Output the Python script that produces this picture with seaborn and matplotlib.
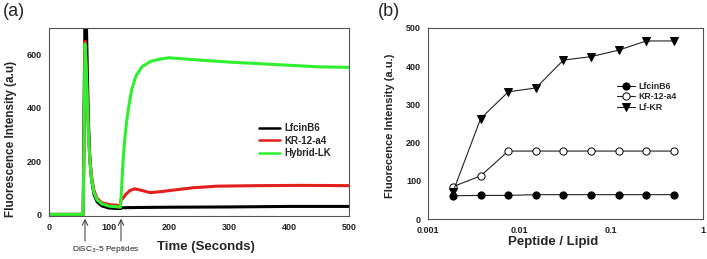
import numpy as np
import pandas as pd
import matplotlib
matplotlib.use('Agg')
import matplotlib.pyplot as plt
import seaborn as sns
from matplotlib.ticker import MultipleLocator, FixedLocator, LogLocator, NullFormatter

# (a) time-course data
t_black = [0, 57, 58.5, 60, 62, 64, 66, 68, 71, 75, 80, 88, 100, 115, 119, 121, 150, 200, 300, 400, 500]
y_black = [0, 0, 400, 760, 760, 520, 330, 210, 130, 75, 48, 32, 24, 22, 22, 25, 26, 27, 28, 30, 30]

t_red = [0, 57, 58.5, 60, 62, 64, 66, 68, 71, 75, 80, 88, 100, 115, 119, 120, 123, 128, 135, 143, 155, 168,
         185, 210, 240, 280, 350, 420, 500]
y_red = [0, 0, 300, 650, 560, 420, 300, 215, 140, 90, 60, 44, 37, 34, 32, 55, 60, 75, 90, 96, 90, 82,
         85, 92, 100, 106, 108, 109, 108]

t_green = [0, 57, 58.5, 60, 62, 64, 66, 68, 71, 75, 80, 88, 100, 115, 119, 120, 122, 124, 127, 130, 134,
           138, 145, 155, 170, 185, 200, 230, 260, 300, 350, 400, 450, 500]
y_green = [0, 0, 300, 640, 560, 410, 290, 205, 130, 82, 55, 40, 31, 28, 27, 60, 140, 220, 300, 360, 420,
           470, 520, 555, 575, 583, 588, 583, 578, 572, 566, 560, 554, 552]

# (b) dose-response data
ratio = [0.00187, 0.00375, 0.0075, 0.015, 0.03, 0.06, 0.12, 0.24, 0.48]
lfcin = [61, 62, 62, 64, 64, 64, 64, 64, 64]
kr12 = [85, 113, 178, 178, 178, 178, 178, 178, 178]
lfkr = [71, 263, 333, 343, 416, 425, 442, 466, 466]

sns.set_style('white')
plt.rcParams['font.family'] = ['Liberation Sans', 'DejaVu Sans']

df_a = pd.concat([
    pd.DataFrame({'t': t_black, 'y': y_black, 'peptide': 'LfcinB6'}),
    pd.DataFrame({'t': t_red, 'y': y_red, 'peptide': 'KR-12-a4'}),
    pd.DataFrame({'t': t_green, 'y': y_green, 'peptide': 'Hybrid-LK'}),
])
pal_a = {'LfcinB6': '#000000', 'KR-12-a4': '#e3201c', 'Hybrid-LK': '#2ef02e'}

fig = plt.figure(figsize=(7.07, 2.59), dpi=100)
ax1 = fig.add_axes([0.0693, 0.166, 0.4243, 0.726])
ax2 = fig.add_axes([0.6054, 0.154, 0.389, 0.738])

sns.lineplot(data=df_a, x='t', y='y', hue='peptide', palette=pal_a, linewidth=2.2,
             estimator=None, sort=False, ax=ax1)
ax1.set_xlim(0, 500)
ax1.set_ylim(-6, 700)
ax1.xaxis.set_major_locator(MultipleLocator(100))
ax1.xaxis.set_minor_locator(MultipleLocator(50))
ax1.yaxis.set_major_locator(FixedLocator([0, 200, 400, 600]))
ax1.yaxis.set_minor_locator(FixedLocator([100, 300, 500]))
ax1.set_xlabel('Time (Seconds)', fontsize=9.5, fontweight='bold')
ax1.set_ylabel('Fluorescence Intensity (a.u)', fontsize=8.5, fontweight='bold')
ax1.xaxis.set_label_coords(0.523, -0.135)
ax1.yaxis.set_label_coords(-0.108, 0.41)
leg1 = ax1.legend(loc='upper left', bbox_to_anchor=(0.67, 0.54), frameon=False,
                  prop={'size': 7, 'weight': 'bold'}, handlelength=2.2, handletextpad=0.4,
                  labelspacing=0.25)
for ln in leg1.get_lines():
    ln.set_linewidth(1.8)

# injection arrows
for tx in [60, 120]:
    ax1.annotate('', xy=(tx, -6), xycoords='data', xytext=(0, -20), textcoords='offset points',
                 arrowprops=dict(arrowstyle='->', color='#333333', lw=0.7), annotation_clip=False)
ax1.text(0.19, -0.15, 'DiSC$_3$-5 Peptides', transform=ax1.transAxes, fontsize=6,
         color='#222222', ha='center', va='top')

# (b)
df_b = pd.DataFrame({'ratio': ratio, 'LfcinB6': lfcin, 'KR-12-a4': kr12, 'Lf-KR': lfkr})
styles = [('LfcinB6', 'o', 'black'), ('KR-12-a4', 'o', 'white'), ('Lf-KR', 'v', 'black')]
for name, mk, fc in styles:
    sns.lineplot(data=df_b, x='ratio', y=name, ax=ax2, color='#222222', linewidth=0.8,
                 marker=mk, markersize=5.2, markerfacecolor=fc, markeredgecolor='black',
                 markeredgewidth=0.7, label=name)
ax2.set_xscale('log')
ax2.set_xlim(0.001, 1)
ax2.set_ylim(0, 500)
ax2.xaxis.set_major_locator(FixedLocator([0.001, 0.01, 0.1, 1]))
ax2.set_xticklabels(['0.001', '0.01', '0.1', '1'])
ax2.xaxis.set_minor_locator(LogLocator(base=10, subs=np.arange(2, 10)))
ax2.xaxis.set_minor_formatter(NullFormatter())
ax2.yaxis.set_major_locator(MultipleLocator(100))
ax2.set_xlabel('Peptide / Lipid', fontsize=9.5, fontweight='bold')
ax2.set_ylabel('Fluorecence Intensity (a.u.)', fontsize=8, fontweight='bold')
ax2.xaxis.set_label_coords(0.455, -0.09)
ax2.yaxis.set_label_coords(-0.12, 0.49)
ax2.legend(loc='upper left', bbox_to_anchor=(0.66, 0.76), frameon=False,
           prop={'size': 6.3, 'weight': 'bold'}, handlelength=2.0, handletextpad=0.4,
           labelspacing=0.2)

for ax in (ax1, ax2):
    for sp in ax.spines.values():
        sp.set_color('#555555')
        sp.set_linewidth(0.8)
    ax.tick_params(which='major', length=3, width=0.7, color='#555555', labelsize=6.5, pad=2)
    ax.tick_params(which='minor', length=2, width=0.6, color='#555555')
    for lab in ax.get_xticklabels() + ax.get_yticklabels():
        lab.set_fontweight('bold')
        lab.set_color('#222222')
ax2.tick_params(axis='x', which='both', direction='in', pad=5)

fig.text(0.004, 0.99, '(a)', fontsize=13, va='top', ha='left')
fig.text(0.535, 0.99, '(b)', fontsize=13, va='top', ha='left')

fig.savefig('out.png', dpi=100)
